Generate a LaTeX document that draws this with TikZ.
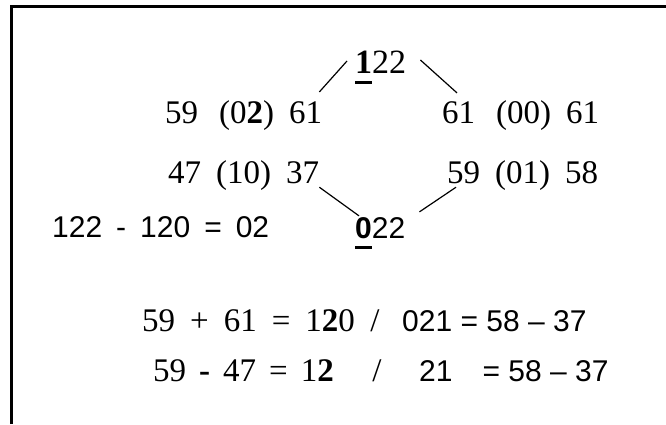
\documentclass[tikz,border=0pt]{standalone}
\usepackage{fontspec}
\setmainfont{Liberation Serif}
\newfontfamily\arialfont{Liberation Sans}
\usetikzlibrary{calc}

\newsavebox{\ulbox}
\newcommand{\ulbold}[1]{\sbox{\ulbox}{#1}\rlap{\rule[-10.5pt]{\wd\ulbox}{3pt}}\usebox{\ulbox}}

\tikzset{
  numtxt/.style={inner sep=0pt, anchor=base west, font=\fontsize{33}{40}\selectfont,
    execute at begin node={\spaceskip=15pt\relax}},
  sanstxt/.style={inner sep=0pt, anchor=base west, font=\fontsize{30}{36}\selectfont\arialfont},
  link/.style={line width=1.2pt},
}

\begin{document}
\begin{tikzpicture}[x=1pt,y=-1pt]
  \useasboundingbox (0,0) rectangle (666,424);
  \draw[line width=3pt] (11,424) -- (11,6) -- (666,6);
  % the split tree
  \node[numtxt, font=\fontsize{34}{40}\selectfont] (top) at (355,73) {\ulbold{\textbf{1}}22};
  \node[numtxt] (lft1) at (165,123) {59\hspace{21pt}(0\textbf{2}) 61};
  \node[numtxt] (rgt1) at (442,123) {61\hspace{21pt}(00) 61};
  \node[numtxt] (lft2) at (168,183) {47 (10) 37};
  \node[numtxt] (rgt2) at (447,183) {59 (01) 58};
  \node[sanstxt, execute at begin node={\spaceskip=14pt\relax}] (diff) at (52,237) {122 - 120 = 02};
  \node[sanstxt] (mid) at (355,238) {\ulbold{\textbf{0}}22};
  \draw[link] ([shift={(-8,-6)}]top.west) -- ([shift={(-3,-8)}]lft1.north east);
  \draw[link] ([shift={(14,-7)}]top.east) -- ([shift={(15,-7)}]rgt1.north west);
  \draw[link] ([shift={(0,-3)}]lft2.south east) -- ([shift={(4,-1)}]mid.north west);
  \draw[link] ([shift={(14,-5)}]mid.north east) -- ([shift={(9,-3)}]rgt2.south west);
  % checks
  \node[numtxt] (sum) at (142,331) {59 + 61 = 1\textbf{2}0};
  \node[numtxt, anchor=base] (sumslash) at (375,331) {/};
  \node[sanstxt] (sumr) at (402,331) {021 = 58 – 37};
  \node[numtxt, execute at begin node={\spaceskip=13pt\relax}] (sub) at (153,381) {59 \textbf{-} 47 = 1\textbf{2}};
  \node[numtxt, anchor=base] (subslash) at (377,381) {/};
  \node[sanstxt] (subr) at (419,381) {21\hspace{30pt}= 58 – 37};
\end{tikzpicture}
\end{document}
